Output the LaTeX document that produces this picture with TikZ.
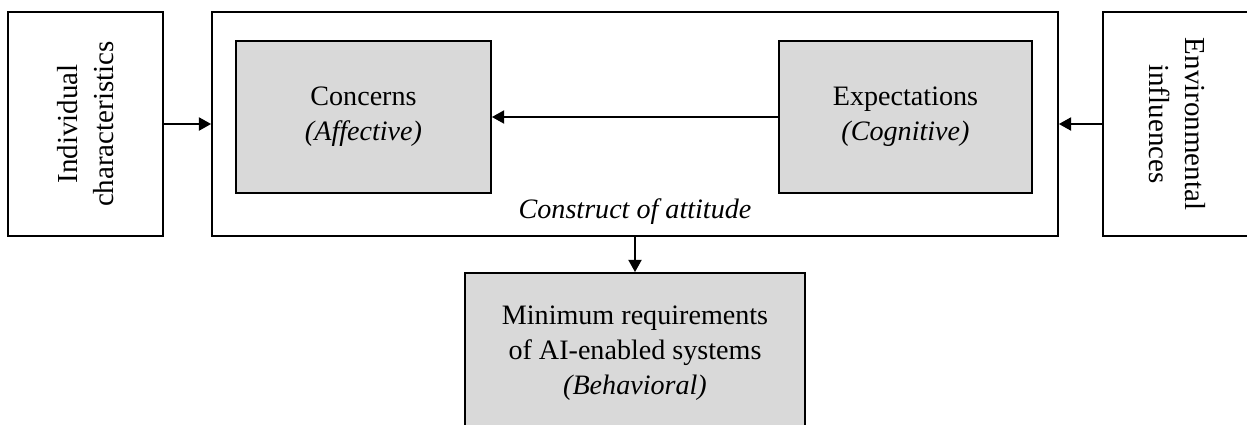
\documentclass[tikz,border=0pt]{standalone}
\usepackage{fontspec}
\setmainfont{Liberation Serif}
\usetikzlibrary{arrows.meta}
\definecolor{boxgrey}{HTML}{D9D9D9}
\tikzset{
  box/.style={draw, line width=1.1pt, align=center, inner sep=0pt},
  greybox/.style={box, fill=boxgrey},
  link/.style={-{Triangle[length=7pt,width=7.5pt]}, line width=1.1pt},
}

\begin{document}
\begin{tikzpicture}[x=0.02cm, y=-0.02cm, font=\fontsize{16}{20}\selectfont]
\useasboundingbox (0,0) rectangle (1247,424);

\node [box, minimum width=16.92cm, minimum height=4.48cm] (attitude) at (635,124) {};
\node [greybox, minimum width=5.1cm, minimum height=3.04cm] (concerns) at (363.5,117) {Concerns\\\textit{(Affective)}};
\node [greybox, minimum width=5.06cm, minimum height=3.04cm] (expect) at (905.5,117) {Expectations\\\textit{(Cognitive)}};
\node [font=\fontsize{16}{20}\selectfont\itshape] (label) at (635,212) {Construct of attitude};

\node [box, rotate=90, minimum width=4.48cm, minimum height=3.1cm, font=\fontsize{16.5}{20.5}\selectfont] (indiv) at (85.5,124) {Individual\\characteristics};
\node [box, rotate=-90, minimum width=4.48cm, minimum height=2.96cm, font=\fontsize{16.5}{20.5}\selectfont] (envir) at (1177,124) {Environmental\\influences};

\node [greybox, minimum width=6.8cm, minimum height=3.2cm] (minreq) at (635,353) {Minimum requirements\\of AI-enabled systems\\\textit{(Behavioral)}};

\draw [link] (indiv.south) -- (attitude.west);
\draw [link] (envir.south) -- (attitude.east);
\draw [link] (expect.west) -- (concerns.east);
\draw [link] (attitude.south) -- (minreq.north);
\end{tikzpicture}
\end{document}
